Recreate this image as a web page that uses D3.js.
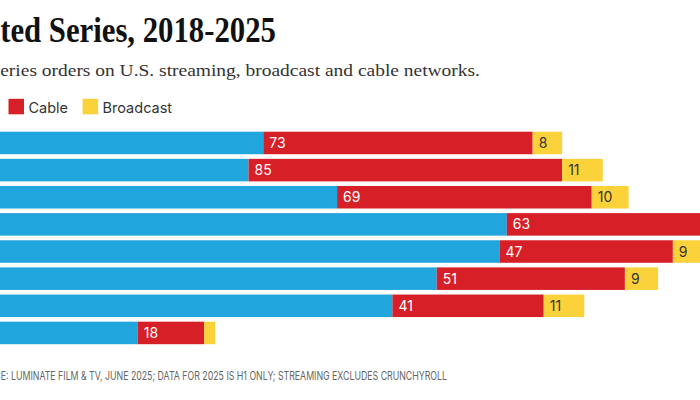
<!DOCTYPE html>
<html lang="en">
<head>
    <meta charset="UTF-8">
    <title>Scripted Series, 2018-2025</title>
    <style>
        body { margin: 0; background: #fff; }
        svg { display: block; }
        .title { font-family: "Liberation Serif", "DejaVu Serif", serif; font-weight: bold; font-size: 36px; fill: #111; }
        .subtitle { font-family: "Liberation Serif", "DejaVu Serif", serif; font-size: 17px; fill: #333; }
        .legend text { font-family: Inter, "Noto Sans", sans-serif; font-size: 14.5px; fill: #333; }
        .value { font-family: Inter, "Noto Sans", sans-serif; font-size: 14px; }
        .source { font-family: Inter, "Noto Sans", sans-serif; font-size: 12px; fill: #666; }
    </style>
</head>
<body>
<div id="chart"></div>
<script src="https://cdn.jsdelivr.net/npm/d3@7"></script>
<script>
    // data
    const years = ["2018", "2019", "2020", "2021", "2022", "2023", "2024", "2025"];
    const streaming = [112, 108, 132, 178, 176, 159, 147, 78];
    const cable = [73, 85, 69, 63, 47, 51, 41, 18];
    const broadcast = [8, 11, 10, 10, 9, 9, 11, 3];
    const seriesNames = ["Streaming", "Cable", "Broadcast"];
    const colors = ["#20a5dd", "#d71f27", "#fcd23a"];

    const width = 700, height = 400;
    // the picture is a crop of a wider chart: the bars start left of the frame
    const barStart = -150;
    const pxPerUnit = 3.69;

    const svg = d3.select("#chart").append("svg")
        .attr("width", width)
        .attr("height", height);

    const table = years.map((y, i) => ({ year: y, Streaming: streaming[i], Cable: cable[i], Broadcast: broadcast[i] }));
    const stacked = d3.stack().keys(seriesNames)(table);

    const x = d3.scaleLinear()
        .domain([0, 300])
        .range([barStart, barStart + 300 * pxPerUnit]);

    const y = d3.scaleBand()
        .domain(years)
        .range([131.7, 344.2])
        .paddingInner(0.17);

    const color = d3.scaleOrdinal().domain(seriesNames).range(colors);

    // squeeze a right-aligned text so its visible tail has the wanted width
    function squeezedText(cls, full, visible, xEnd, yBase) {
        const tmp = svg.append("text").attr("class", cls).text(visible);
        const k = xEnd / tmp.node().getComputedTextLength();
        tmp.remove();
        return svg.append("text").attr("class", cls)
            .attr("text-anchor", "end")
            .attr("transform", `translate(${xEnd},${yBase}) scale(${k},1)`)
            .text(full);
    }

    // title + subtitle
    squeezedText("title", "Scripted Series, 2018-2025", "ted Series, 2018-2025", 276, 41.7);
    squeezedText("subtitle",
        "Number of scripted series orders on U.S. streaming, broadcast and cable networks.",
        "eries orders on U.S. streaming, broadcast and cable networks.", 480, 76);

    // legend (Streaming sits left of Cable, outside the frame)
    const legend = svg.append("g").attr("class", "legend");
    const itemW = seriesNames.map(name => {
        const t = legend.append("text").text(name);
        const w = 15.5 + 5 + t.node().getComputedTextLength() + 14;
        t.remove();
        return w;
    });
    const pos = [8.5 - itemW[0], 8.5, 8.5 + itemW[1]];
    seriesNames.forEach((name, i) => {
        const g = legend.append("g").attr("transform", `translate(${pos[i]},0)`);
        g.append("rect").attr("y", 98.8).attr("width", 15.5).attr("height", 15.5).attr("fill", color(name));
        g.append("text").attr("x", 20).attr("y", 112.5).text(name);
    });

    // bars
    const layer = svg.append("g").selectAll("g")
        .data(stacked)
        .join("g")
        .attr("fill", d => color(d.key));

    layer.selectAll("rect")
        .data(d => d)
        .join("rect")
        .attr("x", d => x(d[0]))
        .attr("y", d => y(d.data.year))
        .attr("width", d => x(d[1]) - x(d[0]))
        .attr("height", y.bandwidth());

    // value labels
    const labels = svg.append("g").selectAll("g")
        .data(stacked)
        .join("g")
        .attr("fill", d => d.key === "Broadcast" ? "#333" : "#fff");

    labels.selectAll("text")
        .data(d => d.filter(v => v[1] - v[0] >= 5))
        .join("text")
        .attr("class", "value")
        .attr("x", d => x(d[0]) + 6)
        .attr("y", d => y(d.data.year) + y.bandwidth() / 2)
        .attr("dy", "0.36em")
        .text(d => d[1] - d[0]);

    // year labels (left of frame)
    svg.append("g").selectAll("text")
        .data(years)
        .join("text")
        .attr("class", "value")
        .attr("fill", "#333")
        .attr("text-anchor", "end")
        .attr("x", barStart - 8)
        .attr("y", d => y(d) + y.bandwidth() / 2)
        .attr("dy", "0.36em")
        .text(d => d === "2025" ? "2025*" : d);

    // source line
    squeezedText("source",
        "SOURCE: LUMINATE FILM & TV, JUNE 2025; DATA FOR 2025 IS H1 ONLY; STREAMING EXCLUDES CRUNCHYROLL",
        "E: LUMINATE FILM & TV, JUNE 2025; DATA FOR 2025 IS H1 ONLY; STREAMING EXCLUDES CRUNCHYROLL", 447, 380);
</script>
</body>
</html>
